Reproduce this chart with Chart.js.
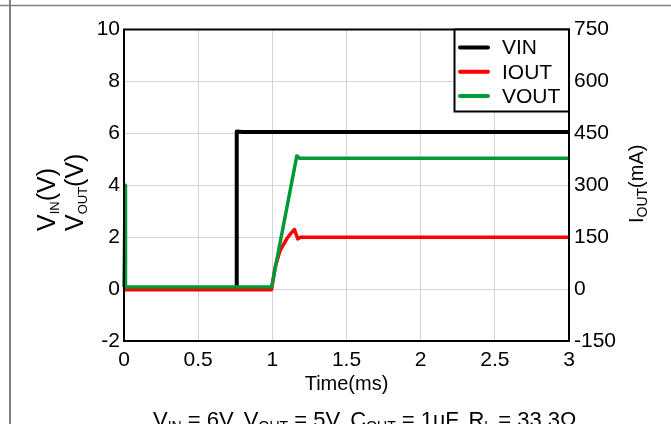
<!DOCTYPE html>
<html>
<head>
<meta charset="utf-8">
<script src="https://cdn.jsdelivr.net/npm/chart.js@4.4.0/dist/chart.umd.min.js"></script>
<style>
  body { margin: 0; background: #fff; }
  #wrap { width: 671px; height: 424px; }
</style>
</head>
<body>
<div id="wrap"><canvas id="startup" width="671" height="424"></canvas></div>
<script>
// Start-up waveforms, time in ms. Each trace has its own sample times.
var vinTime  = [0, 0.757, 0.760, 0.80, 3.0];
var vinVolts = [0, 0, 6.07, 6.05, 6.05];

var ioutTime = [0, 0.995, 1.019, 1.053, 1.098, 1.125, 1.149, 1.172, 1.19, 3.0];
var ioutMa   = [-2, -2, 64, 112, 146, 161, 172, 145, 150, 150];

var voutTime  = [0, 0.006, 0.008, 0.010, 0.995, 1.165, 1.185, 3.0];
var voutVolts = [0.08, 0.08, 4.0, 0.08, 0.08, 5.13, 5.04, 5.04];

// axis ranges
var timeRange = [0, 3, 0.5];
var voltRange = [-2, 10, 2];
var currRange = [-150, 750, 150];

// label pieces: [text, subscript?]
var leftTitle1 = [['V', 0], ['IN', 1], ['(V)', 0]];
var leftTitle2 = [['V', 0], ['OUT', 1], ['(V)', 0]];
var rightTitle = [['I', 0], ['OUT', 1], ['(mA)', 0]];
var bottomTitle = 'Time(ms)';
var caption = [['V', 0], ['IN', 1], [' = 6V, ', 0], ['V', 0], ['OUT', 1], [' = 5V, ', 0],
               ['C', 0], ['OUT', 1], [' = 1uF, ', 0], ['R', 0], ['L', 1], [' = 33.3\u03A9', 0]];

var FONT = '"Liberation Sans", Arial, sans-serif';

function toPoints(xs, ys) {
    return xs.map(function(x, i) { return { x: x, y: ys[i] }; });
}

// draws text with subscript runs, left aligned at baseline y; returns width
function drawRich(ctx, parts, x, y, size, subSize, drop) {
    var cx = x;
    parts.forEach(function(p) {
        ctx.font = (p[1] ? subSize : size) + 'px ' + FONT;
        ctx.fillText(p[0], cx, p[1] ? y + drop : y);
        cx += ctx.measureText(p[0]).width;
    });
    return cx - x;
}

// plain tick numbers: 0, 0.5, 1, 1.5 ...
function plainTick(v) {
    return String(Number(v.toFixed(2)));
}

var decorations = {
    id: 'decorations',
    beforeDraw: function(chart) {
        var ctx = chart.ctx;
        ctx.save();
        ctx.fillStyle = '#fff';
        ctx.fillRect(0, 0, chart.width, chart.height);
        ctx.strokeStyle = '#808080';
        ctx.lineWidth = 1.5;
        ctx.beginPath();
        ctx.moveTo(0, 5.5);
        ctx.lineTo(chart.width, 5.5);
        ctx.stroke();
        ctx.lineWidth = 2;
        ctx.beginPath();
        ctx.moveTo(10, 0);
        ctx.lineTo(10, chart.height);
        ctx.stroke();
        ctx.restore();
    },
    afterDatasetsDraw: function(chart) {
        var ctx = chart.ctx;
        var a = chart.chartArea;
        ctx.save();
        // plot frame
        ctx.strokeStyle = '#000';
        ctx.lineWidth = 2;
        ctx.strokeRect(a.left, a.top, a.right - a.left, a.bottom - a.top);

        // legend box in the top right corner
        var bx = 454.5, by = a.top, bw = a.right - bx, bh = 82;
        ctx.fillStyle = '#fff';
        ctx.fillRect(bx, by, bw, bh);
        ctx.strokeRect(bx, by, bw, bh);
        ctx.font = '21px ' + FONT;
        ctx.textBaseline = 'middle';
        chart.data.datasets.forEach(function(ds, i) {
            var ry = by + 18 + i * 24.3;
            ctx.strokeStyle = ds.borderColor;
            ctx.lineWidth = 4;
            ctx.lineCap = 'round';
            ctx.beginPath();
            ctx.moveTo(460, ry);
            ctx.lineTo(488, ry);
            ctx.stroke();
            ctx.fillStyle = '#000';
            ctx.fillText(ds.label, 502, ry + 1);
        });
        ctx.restore();
    },
    afterDraw: function(chart) {
        var ctx = chart.ctx;
        var a = chart.chartArea;
        ctx.save();
        ctx.fillStyle = '#000';
        ctx.textBaseline = 'alphabetic';
        ctx.textAlign = 'left';

        // left axis titles, two rotated lines
        ctx.save();
        ctx.translate(55, 231);
        ctx.rotate(-Math.PI / 2);
        drawRich(ctx, leftTitle1, 0, 0, 25, 13, 4);
        ctx.restore();
        ctx.save();
        ctx.translate(83, 231);
        ctx.rotate(-Math.PI / 2);
        drawRich(ctx, leftTitle2, 0, 0, 25, 13, 4);
        ctx.restore();

        // right axis title
        ctx.save();
        ctx.translate(643, 223);
        ctx.rotate(-Math.PI / 2);
        drawRich(ctx, rightTitle, 0, 0, 20, 14, 4);
        ctx.restore();

        // time axis title
        ctx.font = '20px ' + FONT;
        ctx.textAlign = 'center';
        ctx.fillText(bottomTitle, (a.left + a.right) / 2, 390);

        // test conditions below the plot
        ctx.textAlign = 'left';
        drawRich(ctx, caption, 153, 426.5, 22, 14, 4);
        ctx.restore();
    }
};

var tickFont = { family: FONT, size: 21 };
var gridColor = '#d4d4d4';

new Chart(document.getElementById('startup'), {
    type: 'line',
    data: {
        datasets: [
            { label: 'VIN', data: toPoints(vinTime, vinVolts), borderColor: '#000000',
              yAxisID: 'y', order: 2, borderWidth: 4 },
            { label: 'IOUT', data: toPoints(ioutTime, ioutMa), borderColor: '#ff0000',
              yAxisID: 'y1', order: 1 },
            { label: 'VOUT', data: toPoints(voutTime, voutVolts), borderColor: '#00993a',
              yAxisID: 'y', order: 0, clip: 4 }
        ]
    },
    options: {
        responsive: false,
        animation: false,
        events: [],
        layout: { padding: { top: 29.5, left: 0, right: 0, bottom: 0 } },
        elements: {
            point: { radius: 0 },
            line: { borderWidth: 3.5, tension: 0, borderJoinStyle: 'round', fill: false }
        },
        plugins: { legend: { display: false }, tooltip: { enabled: false } },
        scales: {
            x: {
                type: 'linear',
                min: timeRange[0], max: timeRange[1],
                ticks: { stepSize: timeRange[2], font: tickFont, color: '#000', padding: 7,
                         maxRotation: 0, callback: plainTick },
                grid: { color: gridColor, drawTicks: false },
                border: { display: false },
                afterFit: function(s) { s.height = 83; }
            },
            y: {
                position: 'left',
                min: voltRange[0], max: voltRange[1],
                ticks: { stepSize: voltRange[2], font: tickFont, color: '#000', padding: 4,
                         callback: plainTick },
                grid: { color: gridColor, drawTicks: false },
                border: { display: false },
                afterFit: function(s) { s.width = 124; }
            },
            y1: {
                position: 'right',
                min: currRange[0], max: currRange[1],
                ticks: { stepSize: currRange[2], font: tickFont, color: '#000', padding: 5,
                         callback: plainTick },
                grid: { drawOnChartArea: false, drawTicks: false },
                border: { display: false },
                afterFit: function(s) { s.width = 102; }
            }
        }
    },
    plugins: [decorations]
});
</script>
</body>
</html>
